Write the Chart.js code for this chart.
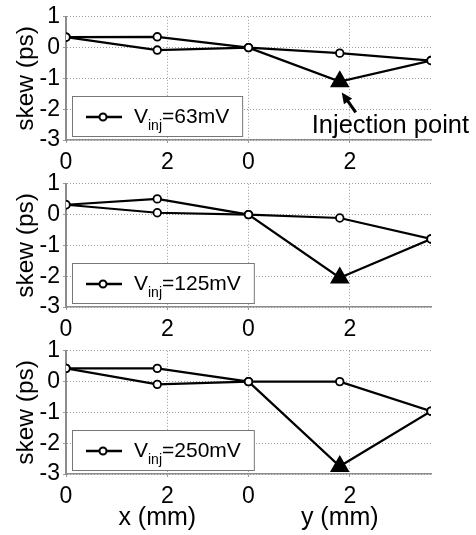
<!DOCTYPE html>
<html>
<head>
<meta charset="utf-8">
<script src="https://cdn.jsdelivr.net/npm/chart.js@4.4.1/dist/chart.umd.min.js"></script>
<style>
  body { margin: 0; background: #fff; }
  #wrap { position: relative; width: 476px; height: 535px; }
  canvas { position: absolute; left: 0; }
</style>
</head>
<body>
<div id="wrap">
  <canvas id="p1" width="476" height="185" style="top:0px"></canvas>
  <canvas id="p2" width="476" height="185" style="top:167px"></canvas>
  <canvas id="p3" width="476" height="201" style="top:334px"></canvas>
</div>
<script>
// positions along the x run (0..3.6) followed by the y run (3.6..7.2)
const xPos = [0, 1.8, 3.6, 5.4, 7.2];
const halfSpan = 3.6;
const tickPos = [0, 2, 3.6, 5.6];
const tickText = ['0', '2', '0', '2'];
const axisNames = ['x (mm)', 'y (mm)'];
const injIndex = 3;

// skew (ps), path through the injection point and the other path
const skew63A = [0.34, 0.35, 0, -1.1, -0.42];
const skew63B = [0.34, -0.08, 0, -0.18, -0.42];
const skew125A = [0.32, 0.51, 0, -2.05, -0.79];
const skew125B = [0.32, 0.06, 0, -0.11, -0.79];
const skew250A = [0.43, 0.43, 0, -2.75, -0.96];
const skew250B = [0.43, -0.09, 0, 0, -0.96];

const vinjLabels = ['63mV', '125mV', '250mV'];

const FONT = '"Liberation Sans", Arial, sans-serif';

const legendBox = {
  id: 'legendBox',
  afterDraw(chart, args, opts) {
    const { ctx, chartArea } = chart;
    const x0 = chartArea.left + 6;
    const y1 = chartArea.bottom - 4;
    const y0 = y1 - 40;
    ctx.save();
    ctx.font = '21px ' + FONT;
    const vW = ctx.measureText('V').width;
    const restW = ctx.measureText('=' + opts.text).width;
    ctx.font = '14px ' + FONT;
    const subW = ctx.measureText('inj').width;
    const textX = x0 + 62;
    const w = 62 + vW + subW + restW + 13;
    ctx.fillStyle = '#fff';
    ctx.fillRect(x0, y0, w, 40);
    ctx.strokeStyle = '#777';
    ctx.lineWidth = 1;
    ctx.strokeRect(x0 + 0.5, y0 + 0.5, w, 40);
    // sample line with marker
    ctx.strokeStyle = '#000';
    ctx.lineWidth = 2.5;
    ctx.beginPath();
    ctx.moveTo(x0 + 14, y0 + 21);
    ctx.lineTo(x0 + 50, y0 + 21);
    ctx.stroke();
    ctx.fillStyle = '#fff';
    ctx.lineWidth = 2;
    ctx.beginPath();
    ctx.arc(x0 + 31, y0 + 21, 3.5, 0, Math.PI * 2);
    ctx.fill();
    ctx.stroke();
    ctx.fillStyle = '#000';
    ctx.textBaseline = 'alphabetic';
    ctx.font = '21px ' + FONT;
    ctx.fillText('V', textX, y0 + 27);
    ctx.font = '14px ' + FONT;
    ctx.fillText('inj', textX + vW, y0 + 34);
    ctx.font = '21px ' + FONT;
    ctx.fillText('=' + opts.text, textX + vW + subW, y0 + 27);
    ctx.restore();
  }
};

const injectionNote = {
  id: 'injectionNote',
  afterDraw(chart) {
    const { ctx, chartArea } = chart;
    const pt = chart.getDatasetMeta(0).data[injIndex];
    const tipX = pt.x + 2, tipY = pt.y + 11;
    const tailX = pt.x + 16, tailY = pt.y + 31;
    const ang = Math.atan2(tipY - tailY, tipX - tailX);
    ctx.save();
    ctx.strokeStyle = '#000';
    ctx.fillStyle = '#000';
    ctx.lineWidth = 3;
    ctx.beginPath();
    ctx.moveTo(tailX, tailY);
    ctx.lineTo(tipX - Math.cos(ang) * 6, tipY - Math.sin(ang) * 6);
    ctx.stroke();
    ctx.beginPath();
    ctx.moveTo(tipX, tipY);
    ctx.lineTo(tipX - Math.cos(ang) * 11 + Math.sin(ang) * 5, tipY - Math.sin(ang) * 11 - Math.cos(ang) * 5);
    ctx.lineTo(tipX - Math.cos(ang) * 11 - Math.sin(ang) * 5, tipY - Math.sin(ang) * 11 + Math.cos(ang) * 5);
    ctx.closePath();
    ctx.fill();
    ctx.font = '25.5px ' + FONT;
    ctx.textBaseline = 'alphabetic';
    ctx.fillText('Injection point', pt.x - 28, chartArea.bottom - 7);
    ctx.restore();
  }
};

const runTitles = {
  id: 'runTitles',
  afterDraw(chart) {
    const { ctx, scales } = chart;
    const xs = scales.x;
    ctx.save();
    ctx.font = '25px ' + FONT;
    ctx.fillStyle = '#000';
    ctx.textAlign = 'center';
    ctx.textBaseline = 'middle';
    ctx.fillText(axisNames[0], xs.getPixelForValue(halfSpan / 2), xs.bottom - 17);
    ctx.fillText(axisNames[1], xs.getPixelForValue(halfSpan * 1.5), xs.bottom - 17);
    ctx.restore();
  }
};

function pathDataset(values, withInjection) {
  return {
    data: xPos.map((x, i) => ({ x: x, y: values[i] })),
    borderColor: '#000',
    borderWidth: 2.2,
    tension: 0,
    pointStyle: xPos.map((x, i) => withInjection && i === injIndex ? 'triangle' : 'circle'),
    pointRadius: xPos.map((x, i) => withInjection && i === injIndex ? 9.5 : 3.8),
    pointBackgroundColor: xPos.map((x, i) => withInjection && i === injIndex ? '#000' : '#fff'),
    pointBorderColor: '#000',
    pointBorderWidth: 1.8
  };
}

function makePanel(id, seriesA, seriesB, vinj, last) {
  const canvas = document.getElementById(id);
  const plugins = [legendBox];
  if (id === 'p1') plugins.push(injectionNote);
  if (last) plugins.push(runTitles);
  return new Chart(canvas, {
    type: 'line',
    data: { datasets: [pathDataset(seriesA, true), pathDataset(seriesB, false)] },
    plugins: plugins,
    options: {
      responsive: false,
      animation: false,
      layout: { padding: { top: 15, right: 45, left: 0, bottom: 0 } },
      plugins: {
        legend: { display: false },
        tooltip: { enabled: false },
        legendBox: { text: vinj }
      },
      scales: {
        x: {
          type: 'linear',
          min: 0,
          max: halfSpan * 2,
          afterFit: s => { s.height = canvas.height - 140; },
          afterBuildTicks: s => { s.ticks = tickPos.map(v => ({ value: v })); },
          ticks: {
            autoSkip: false,
            maxRotation: 0,
            padding: 6,
            color: '#000',
            font: { family: FONT, size: 23 },
            callback: (v, i) => tickText[i]
          },
          grid: { color: '#9a9a9a', lineWidth: 1, tickLength: 3, tickColor: '#9a9a9a' },
          border: { color: '#8c8c8c', width: 1.5, dash: [1, 2] }
        },
        y: {
          min: -3,
          max: 1,
          afterFit: s => { s.width = 66; },
          ticks: {
            stepSize: 1,
            padding: 3,
            color: '#000',
            font: { family: FONT, size: 23 }
          },
          grid: { color: '#9a9a9a', lineWidth: 1, tickLength: 3, tickColor: '#9a9a9a' },
          border: { color: '#8c8c8c', width: 2, dash: [1, 2] },
          title: {
            display: true,
            text: 'skew (ps)',
            color: '#000',
            font: { family: FONT, size: 24.5 },
            padding: { top: 12, bottom: 0 }
          }
        }
      }
    }
  });
}

makePanel('p1', skew63A, skew63B, vinjLabels[0], false);
makePanel('p2', skew125A, skew125B, vinjLabels[1], false);
makePanel('p3', skew250A, skew250B, vinjLabels[2], true);
</script>
</body>
</html>
